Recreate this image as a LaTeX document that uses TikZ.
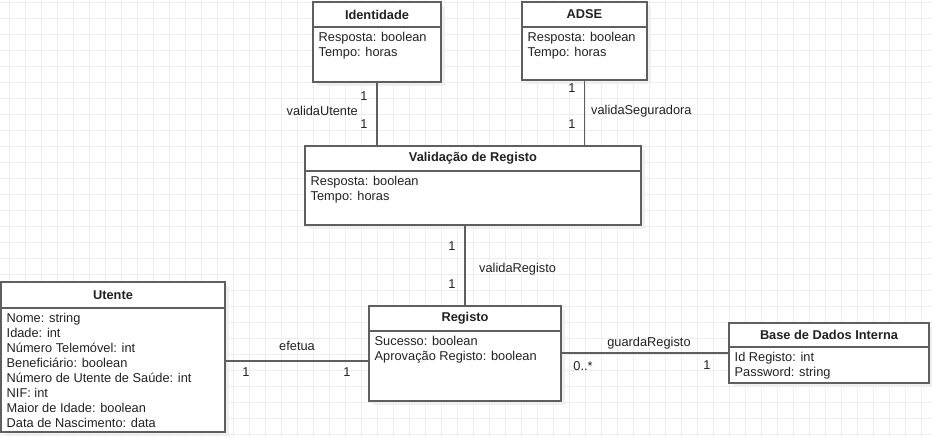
\documentclass[tikz,border=0pt]{standalone}
\usepackage{fontspec}
\setmainfont{Liberation Sans}
\usetikzlibrary{positioning,shadows}
\definecolor{edge}{HTML}{5F5F5F}
\definecolor{txt}{HTML}{222222}
\definecolor{gridc}{HTML}{EDEDED}

\begin{document}
\begin{tikzpicture}[x=1pt,y=-1pt,
  font=\fontsize{12.8}{15}\selectfont, text=txt,
  gridline/.style={draw=gridc, line width=1pt},
  clshead/.style={draw=edge, line width=1.4pt, fill=white, inner sep=0pt, outer sep=0pt,
    font=\fontsize{12.8}{15}\selectfont\bfseries,
    drop shadow={shadow xshift=4pt, shadow yshift=-4pt, fill=black!6, opacity=1}},
  clsbody/.style={draw=edge, line width=1.4pt, fill=white, inner sep=0pt, outer sep=0pt,
    drop shadow={shadow xshift=4pt, shadow yshift=-4pt, fill=black!6, opacity=1}},
  clsattr/.style={inner sep=0pt, align=left, anchor=north west},
  assoc/.style={draw=edge, line width=1.4pt},
  mult/.style={inner sep=0pt}]
\useasboundingbox (0,0) rectangle (932,437);
\fill[white] (0,0) rectangle (932,437);
% background grid
\foreach \gx in {9.3,25.3,...,932} \draw[gridline] (\gx,0) -- (\gx,437);
\foreach \gy in {2.7,18.7,...,437} \draw[gridline] (0,\gy) -- (932,\gy);

% classes
\node[clshead, minimum width=128, minimum height=25, anchor=north west] (idh) at (313,2) {Identidade};
\node[clsbody, minimum width=128, minimum height=55, below=0pt of idh] (idb) {};
\node[clsattr] (ida) at ([xshift=5.5pt,yshift=-5.5pt]idb.north west) {Resposta: boolean\\Tempo: horas};

\node[clshead, minimum width=125, minimum height=25, anchor=north west] (adh) at (522,2) {ADSE};
\node[clsbody, minimum width=125, minimum height=53, below=0pt of adh] (adb) {};
\node[clsattr] (ada) at ([xshift=5.5pt,yshift=-5.5pt]adb.north west) {Resposta: boolean\\Tempo: horas};

\node[clshead, minimum width=336, minimum height=25, anchor=north west] (vrh) at (305,146) {Validação de Registo};
\node[clsbody, minimum width=336, minimum height=54, below=0pt of vrh] (vrb) {};
\node[clsattr] (vra) at ([xshift=5.5pt,yshift=-5.5pt]vrb.north west) {Resposta: boolean\\Tempo: horas};

\node[clshead, minimum width=224, minimum height=26, anchor=north west] (uth) at (1,282) {Utente};
\node[clsbody, minimum width=224, minimum height=124, below=0pt of uth] (utb) {};
\node[clsattr] (uta) at ([xshift=5.5pt,yshift=-5.5pt]utb.north west) {Nome: string\\Idade: int\\Número Telemóvel: int\\Beneficiário: boolean\\Número de Utente de Saúde: int\\NIF: int\\Maior de Idade: boolean\\Data de Nascimento: data};

\node[clshead, minimum width=192, minimum height=25, anchor=north west] (rgh) at (369,306) {Registo};
\node[clsbody, minimum width=192, minimum height=70, below=0pt of rgh] (rgb) {};
\node[clsattr] (rga) at ([xshift=5.5pt,yshift=-5.5pt]rgb.north west) {Sucesso: boolean\\Aprovação Registo: boolean};

\node[clshead, minimum width=200, minimum height=24, anchor=north west] (bdh) at (729,323) {Base de Dados Interna};
\node[clsbody, minimum width=200, minimum height=36, below=0pt of bdh] (bdb) {};
\node[clsattr] (bda) at ([xshift=5.5pt,yshift=-5.5pt]bdb.north west) {Id Registo: int\\Password: string};

% associations
\draw[assoc] (idb.south) -- (idb.south |- vrh.north);
\draw[assoc] (adb.south) -- (adb.south |- vrh.north);
\draw[assoc] (rgh.north) -- (rgh.north |- vrb.south);
\draw[assoc] (utb.east |- 0,361) -- (rgb.west |- 0,361);
\draw[assoc] (rgb.east |- 0,353) -- (bdb.west |- 0,353);

% labels
\node[mult] (idm1) at (364,96) {1};
\node[mult, anchor=east] (idl) at (358,111) {validaUtente};
\node[mult] (idm2) at (364,124) {1};
\node[mult] (adm1) at (572,88) {1};
\node[mult, anchor=west] (adl) at (591,111) {validaSeguradora};
\node[mult] (adm2) at (572,124) {1};
\node[mult] (vrm1) at (452,246) {1};
\node[mult, anchor=west] (vrl) at (479,269) {validaRegisto};
\node[mult] (vrm2) at (452,284) {1};
\node[mult] (utl) at (297,345.5) {efetua};
\node[mult] (utm1) at (246,372) {1};
\node[mult] (utm2) at (347,372) {1};
\node[mult] (bdl) at (649,343) {guardaRegisto};
\node[mult] (bdm1) at (583,366) {0..*};
\node[mult] (bdm2) at (707,365) {1};
\end{tikzpicture}
\end{document}
